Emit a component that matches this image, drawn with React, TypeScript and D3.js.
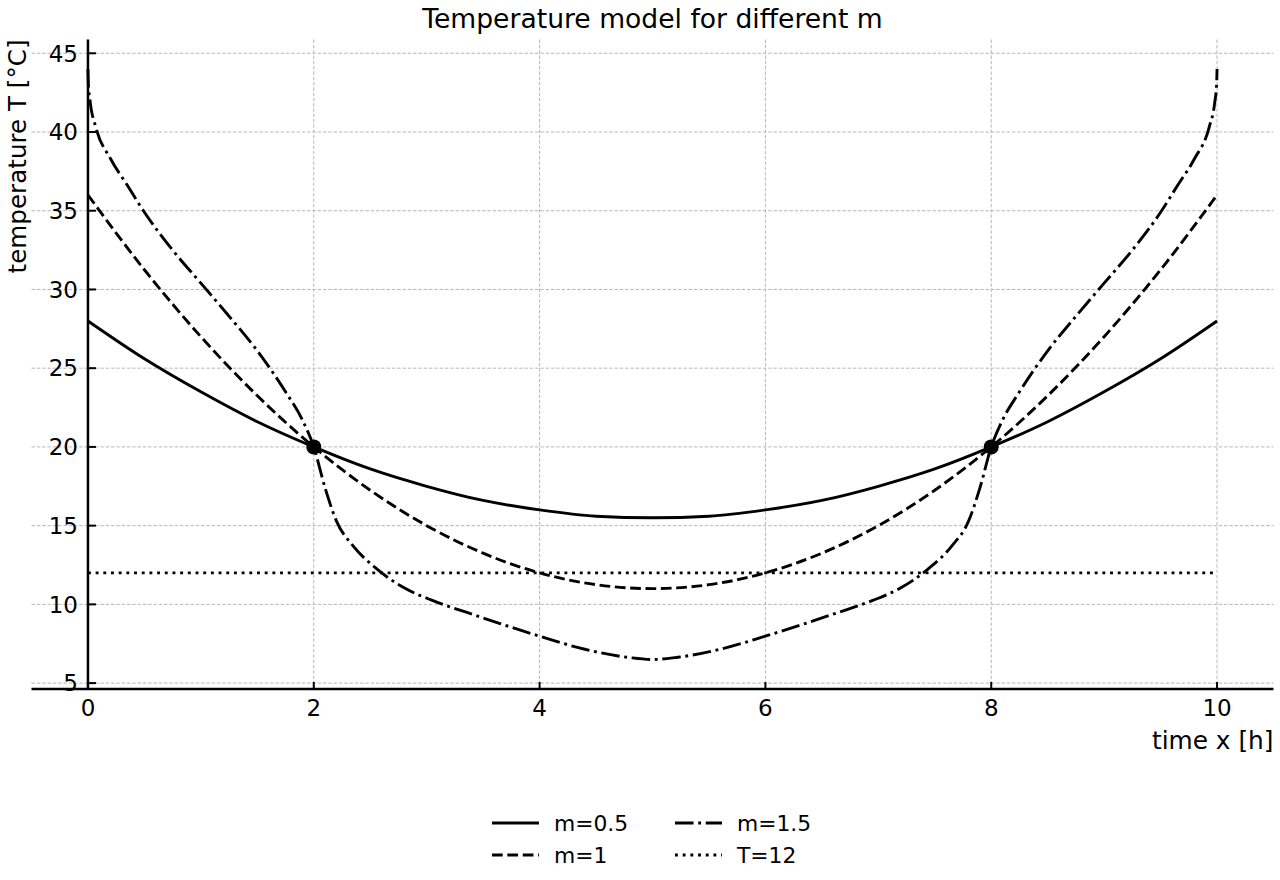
import React from "react";
import * as d3 from "d3";

// Sample times [h] and temperatures [°C] for each model curve
const xsParab: number[] = [0, 0.5, 1, 1.5, 2, 2.5, 3, 3.5, 4, 4.5, 5, 5.5, 6, 6.5, 7, 7.5, 8, 8.5, 9, 9.5, 10];
const tM05: number[] = [28, 25.6, 23.5, 21.6, 20, 18.6, 17.5, 16.6, 16, 15.6, 15.5, 15.6, 16, 16.6, 17.5, 18.6, 20, 21.6, 23.5, 25.6, 28];
const tM1: number[] = [36, 31.25, 27, 23.25, 20, 17.25, 15, 13.25, 12, 11.25, 11, 11.25, 12, 13.25, 15, 17.25, 20, 23.25, 27, 31.25, 36];

const xsM15: number[] = [
  0, 0.004, 0.02, 0.07, 0.2, 0.35, 0.5, 0.75, 1.0, 1.25, 1.5, 1.75, 1.9, 2.0, 2.1, 2.2, 2.35, 2.55, 2.8, 3.05, 3.35, 3.65, 4.0, 4.4, 4.8, 5.0,
  5.2, 5.6, 6.0, 6.35, 6.65, 6.95, 7.2, 7.45, 7.65, 7.8, 7.9, 8.0, 8.1, 8.25, 8.5, 8.75, 9.0, 9.25, 9.5, 9.65, 9.8, 9.93, 9.98, 9.996, 10,
];
const tM15: number[] = [
  44.0, 43.0, 41.9, 40.3, 38.3, 36.6, 34.9, 32.5, 30.4, 28.3, 26.1, 23.5, 21.7, 20.0, 17.4, 15.3, 13.7, 12.3, 11.05, 10.25, 9.5, 8.78, 7.98, 7.15, 6.62, 6.5,
  6.62, 7.15, 7.98, 8.78, 9.5, 10.25, 11.05, 12.3, 13.7, 15.3, 17.4, 20.0, 21.7, 23.5, 26.1, 28.3, 30.4, 32.5, 34.9, 36.6, 38.3, 40.3, 41.9, 43.0, 44.0,
];

const refTemp = 12;
const crossPoints: [number, number][] = [[2, 20], [8, 20]];

const xTicks: number[] = [0, 2, 4, 6, 8, 10];
const yTicks: number[] = [5, 10, 15, 20, 25, 30, 35, 40, 45];

const FONT = "DejaVu Sans, sans-serif";
const LW = 2.9;

type Series = { label: string; xs: number[]; ys: number[]; dash: string | null };

const seriesList: Series[] = [
  { label: "m=0.5", xs: xsParab, ys: tM05, dash: null },
  { label: "m=1", xs: xsParab, ys: tM1, dash: `${3.7 * LW},${1.6 * LW}` },
  { label: "m=1.5", xs: xsM15, ys: tM15, dash: `${6.4 * LW},${1.6 * LW},${1 * LW},${1.6 * LW}` },
];
const dotDash = `${1 * LW},${1.65 * LW}`;

export default function App() {
  const left = 31.5, right = 1273.5, top = 39.5, bottom = 689;
  const x = d3.scaleLinear().domain([-0.5, 10.5]).range([left, right]);
  const y = d3.scaleLinear().domain([4.625, 45.875]).range([bottom, top]);

  const mkLine = (xs: number[]) =>
    d3
      .line<number>()
      .x((_, i) => x(xs[i]))
      .y((d) => y(d))
      .curve(d3.curveMonotoneX);

  const x0 = x(0);

  // legend layout: two columns, two rows
  const legendItems = [
    { label: "m=0.5", dash: null as string | null, col: 0, row: 0 },
    { label: "m=1", dash: seriesList[1].dash, col: 0, row: 1 },
    { label: "m=1.5", dash: seriesList[2].dash, col: 1, row: 0 },
    { label: "T=12", dash: dotDash, col: 1, row: 1 },
  ];
  const colX = [492, 675];
  const rowY = [823, 855];

  return (
    <svg
      width={1280}
      height={880}
      style={{ position: "absolute", left: 0, top: 0, background: "#fff" }}
      fontFamily={FONT}
    >
      {/* grid */}
      <g stroke="#b8b8b8" strokeWidth={1} strokeDasharray="3.5,1.8">
        {xTicks.map((t) => (
          <line key={`gx${t}`} x1={x(t)} x2={x(t)} y1={top} y2={bottom} />
        ))}
        {yTicks.map((t) => (
          <line key={`gy${t}`} x1={left} x2={right} y1={y(t)} y2={y(t)} />
        ))}
      </g>

      {/* reference temperature */}
      <line
        x1={x(0)}
        x2={x(10)}
        y1={y(refTemp)}
        y2={y(refTemp)}
        stroke="#000"
        strokeWidth={LW}
        strokeDasharray={dotDash}
      />

      {/* model curves */}
      {seriesList.map((s) => (
        <path
          key={s.label}
          d={mkLine(s.xs)(s.ys) || ""}
          fill="none"
          stroke="#000"
          strokeWidth={LW}
          strokeDasharray={s.dash || undefined}
          strokeLinejoin="round"
        />
      ))}

      {/* crossing points */}
      {crossPoints.map(([px, py]) => (
        <circle key={`c${px}`} cx={x(px)} cy={y(py)} r={7.5} fill="#000" />
      ))}

      {/* spines */}
      <line x1={x0} x2={x0} y1={top} y2={bottom} stroke="#000" strokeWidth={2.5} />
      <line x1={left} x2={right} y1={bottom} y2={bottom} stroke="#000" strokeWidth={2.5} />

      {/* y ticks */}
      {yTicks.map((t) => (
        <g key={`ty${t}`}>
          <line x1={x0} x2={x0 + 8} y1={y(t)} y2={y(t)} stroke="#000" strokeWidth={2} />
          <text x={x0 - 10} y={y(t)} dy="0.36em" textAnchor="end" fontSize={23}>
            {t}
          </text>
        </g>
      ))}

      {/* x ticks */}
      {xTicks.map((t) => (
        <g key={`tx${t}`}>
          <line x1={x(t)} x2={x(t)} y1={bottom} y2={bottom - 7} stroke="#000" strokeWidth={2} />
          <text x={x(t)} y={716} textAnchor="middle" fontSize={23}>
            {t}
          </text>
        </g>
      ))}

      {/* axis labels */}
      <text x={right} y={749} textAnchor="end" fontSize={24.8}>
        time x [h]
      </text>
      <text transform={`translate(26,${top}) rotate(-90)`} textAnchor="end" fontSize={24.6}>
        temperature T [°C]
      </text>

      {/* title */}
      <text x={(left + right) / 2} y={28} textAnchor="middle" fontSize={26.6}>
        Temperature model for different m
      </text>

      {/* legend */}
      {legendItems.map((it) => (
        <g key={it.label}>
          <line
            x1={colX[it.col]}
            x2={colX[it.col] + 47}
            y1={rowY[it.row]}
            y2={rowY[it.row]}
            stroke="#000"
            strokeWidth={LW}
            strokeDasharray={it.dash || undefined}
          />
          <text x={colX[it.col] + 62} y={rowY[it.row]} dy="0.35em" fontSize={21.8}>
            {it.label}
          </text>
        </g>
      ))}
    </svg>
  );
}
